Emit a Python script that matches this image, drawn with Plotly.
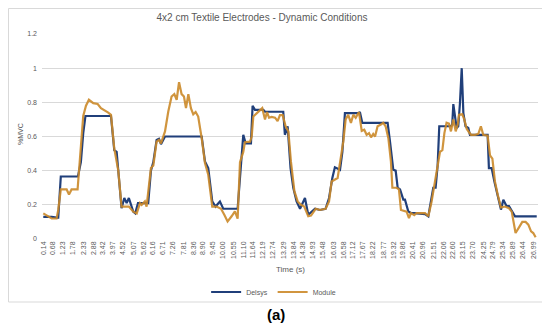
import plotly.graph_objects as go

# Tick labels of the category axis (time in seconds)
tick_labels = ["0.14", "0.68", "1.23", "1.78", "2.33", "2.88", "3.42", "3.97", "4.52", "5.07",
               "5.62", "6.16", "6.71", "7.26", "7.81", "8.36", "8.90", "9.45", "10.00", "10.55",
               "11.10", "11.64", "12.19", "12.74", "13.29", "13.84", "14.38", "14.93", "15.48", "16.03",
               "16.58", "17.12", "17.67", "18.22", "18.77", "19.32", "19.86", "20.41", "20.96", "21.51",
               "22.06", "22.60", "23.15", "23.70", "24.25", "24.79", "25.34", "25.89", "26.44", "26.99"]
tick_vals = [float(s) for s in tick_labels]

# Delsys series (time, %MVC)
delsys_t = [0.14, 0.60, 0.87, 0.96, 1.10, 2.04, 2.20, 2.33, 2.45, 3.85, 4.03, 4.16, 4.25, 4.43,
            4.58, 4.71, 4.83, 5.07, 5.18, 5.33, 5.89, 6.04, 6.17, 6.35, 6.48, 6.59, 6.81, 8.82,
            9.00, 9.18, 9.40, 9.58, 9.82, 10.00, 10.79, 10.97, 11.10, 11.23, 11.52, 11.61, 11.74,
            12.20, 12.29, 13.29, 13.38, 13.53, 13.69, 13.84, 14.02, 14.21, 14.48, 14.66, 14.85,
            15.03, 15.30, 15.61, 15.80, 15.98, 16.12, 16.40, 16.53, 16.67, 17.44, 17.49, 17.62,
            19.01, 19.14, 19.32, 19.45, 19.56, 19.69, 19.87, 19.96, 20.14, 20.29, 20.47, 21.06,
            21.24, 21.51, 21.64, 21.75, 21.84, 22.48, 22.55, 22.61, 22.70, 22.79, 22.88, 22.97,
            23.07, 23.16, 23.28, 23.43, 23.52, 24.49, 24.56, 24.71, 24.86, 25.04, 25.22, 25.35,
            25.53, 25.66, 25.81, 25.99, 27.18]
delsys_v = [0.13, 0.13, 0.125, 0.125, 0.366, 0.366, 0.45, 0.62, 0.72, 0.72, 0.52, 0.51, 0.40, 0.18,
            0.24, 0.21, 0.24, 0.16, 0.15, 0.21, 0.21, 0.40, 0.45, 0.58, 0.587, 0.555, 0.60, 0.60,
            0.454, 0.415, 0.22, 0.19, 0.22, 0.177, 0.177, 0.40, 0.61, 0.56, 0.56, 0.78, 0.756,
            0.756, 0.745, 0.745, 0.61, 0.66, 0.415, 0.30, 0.22, 0.177, 0.24, 0.142, 0.16,
            0.177, 0.17, 0.177, 0.24, 0.357, 0.42, 0.405, 0.51, 0.737, 0.737, 0.743, 0.68,
            0.68, 0.57, 0.405, 0.40, 0.30, 0.29, 0.23, 0.23, 0.162, 0.152, 0.152, 0.146,
            0.133, 0.30, 0.30, 0.43, 0.66, 0.66, 0.67, 0.79, 0.70, 0.65, 0.66, 0.79,
            1.0, 0.737, 0.66, 0.65, 0.61, 0.61, 0.415, 0.415, 0.337, 0.26, 0.172, 0.23,
            0.192, 0.192, 0.162, 0.133, 0.133]

# Module series (time, %MVC)
module_t = [0.14, 0.41, 0.60, 0.87, 0.96, 1.10, 1.42, 1.55, 1.69, 2.02, 2.15, 2.33, 2.48, 2.64,
            2.88, 3.12, 3.30, 3.48, 3.70, 3.85, 4.03, 4.25, 4.43, 4.83, 5.07, 5.26, 5.44, 5.53,
            5.71, 5.80, 6.04, 6.17, 6.35, 6.48, 6.59, 6.81, 6.99, 7.17, 7.32, 7.45, 7.58, 7.72,
            7.85, 7.96, 8.09, 8.23, 8.36, 8.49, 8.63, 8.82, 9.00, 9.18, 9.40, 9.64, 9.88, 10.06,
            10.24, 10.46, 10.64, 10.79, 10.92, 11.10, 11.19, 11.47, 11.56, 11.65, 11.83, 11.96,
            12.14, 12.29, 12.40, 12.51, 12.65, 12.84, 12.98, 13.11, 13.26, 13.42, 13.57, 13.71,
            13.90, 14.08, 14.26, 14.44, 14.66, 14.81, 15.07, 15.30, 15.61, 15.80, 15.94, 16.27,
            16.45, 16.58, 16.71, 16.85, 17.00, 17.13, 17.26, 17.44, 17.59, 17.73, 17.86, 17.99,
            18.10, 18.22, 18.32, 18.46, 18.64, 18.77, 18.90, 19.05, 19.19, 19.27, 19.50, 19.63,
            19.74, 19.92, 20.05, 20.18, 20.29, 20.47, 20.60, 21.06, 21.24, 21.42, 21.64, 21.88,
            22.01, 22.12, 22.24, 22.37, 22.48, 22.61, 22.74, 22.85, 22.92, 23.10, 23.21, 23.34,
            23.47, 23.58, 23.80, 23.98, 24.12, 24.25, 24.49, 24.62, 24.75, 24.89, 25.04, 25.22,
            25.44, 25.66, 25.81, 26.02, 26.21, 26.39, 26.57, 26.72, 26.87, 26.99, 27.12]
module_v = [0.15, 0.13, 0.12, 0.12, 0.17, 0.29, 0.29, 0.26, 0.29, 0.29, 0.45, 0.72, 0.78, 0.815,
            0.795, 0.79, 0.766, 0.755, 0.74, 0.727, 0.53, 0.40, 0.19, 0.19, 0.16, 0.15, 0.21, 0.20,
            0.22, 0.19, 0.415, 0.43, 0.57, 0.58, 0.56, 0.63, 0.746, 0.834, 0.848, 0.815, 0.918, 0.848,
            0.834, 0.766, 0.848, 0.766, 0.73, 0.743, 0.717, 0.59, 0.444, 0.376, 0.19, 0.19, 0.177, 0.142,
            0.103, 0.133, 0.162, 0.119, 0.45, 0.51, 0.567, 0.57, 0.60, 0.717, 0.737, 0.75,
            0.766, 0.70, 0.743, 0.71, 0.715, 0.71, 0.69, 0.725, 0.725, 0.66, 0.63, 0.454,
            0.28, 0.22, 0.20, 0.19, 0.133, 0.137, 0.177, 0.17, 0.177, 0.22, 0.337, 0.357,
            0.49, 0.57, 0.70, 0.727, 0.68, 0.727, 0.71, 0.743, 0.633, 0.64, 0.61, 0.62,
            0.595, 0.615, 0.60, 0.66, 0.67, 0.68, 0.66, 0.59, 0.454, 0.30, 0.30, 0.29,
            0.17, 0.165, 0.16, 0.123, 0.152, 0.14, 0.152, 0.152, 0.133, 0.22, 0.357, 0.51,
            0.52, 0.62, 0.68, 0.675, 0.63, 0.70, 0.63, 0.67, 0.727, 0.73, 0.70, 0.645,
            0.625, 0.61, 0.61, 0.615, 0.66, 0.61, 0.605, 0.49, 0.47, 0.337, 0.26, 0.185,
            0.19, 0.18, 0.16, 0.035, 0.068, 0.10, 0.10, 0.084, 0.045, 0.035, 0.01]

y_ticks = [0, 0.2, 0.4, 0.6, 0.8, 1, 1.2]
y_tick_text = ["0", "0.2", "0.4", "0.6", "0.8", "1", "1.2"]

GRAY = "#595959"
FONT = "Liberation Sans"

# Figure is 542x324 because the page body adds an 8px margin in the 550x332 window.
W, H = 542, 324
L, R, T, B = 34, 12, 26, 93
PW, PH = W - L - R, H - T - B


def px_x(x):
    return (x - L) / PW


def px_y(y):
    return (H - B - y) / PH


fig = go.Figure()
fig.add_trace(go.Scatter(x=delsys_t, y=delsys_v, mode="lines", name="Delsys",
                         line=dict(color="#203f7a", width=2.2)))
fig.add_trace(go.Scatter(x=module_t, y=module_v, mode="lines", name="Module",
                         line=dict(color="#cc8a2a", width=2.2), opacity=0.9))

fig.update_layout(
    width=W, height=H,
    margin=dict(l=L, r=R, t=T, b=B),
    paper_bgcolor="white", plot_bgcolor="white",
    font=dict(family=FONT, color=GRAY, size=8),
    title=dict(text="4x2 cm Textile Electrodes - Dynamic Conditions",
               x=254 / W, xref="container", xanchor="center", y=1 - 9 / H, yanchor="middle",
               font=dict(family=FONT, size=10, color=GRAY)),
    showlegend=True,
    legend=dict(orientation="h", x=0.467, xanchor="center", y=px_y(284), yanchor="middle",
                font=dict(family=FONT, size=7, color=GRAY), itemwidth=30,
                bgcolor="rgba(0,0,0,0)"),
    xaxis=dict(range=[0.07, 27.25], tickmode="array", tickvals=tick_vals, ticktext=tick_labels,
               tickangle=-90, tickfont=dict(size=7, color=GRAY), showgrid=False, zeroline=False,
               showline=False, ticks="", automargin=False),
    yaxis=dict(range=[0, 1.2], tickmode="array", tickvals=y_ticks, ticktext=y_tick_text,
               tickfont=dict(size=7, color=GRAY), showgrid=True, gridcolor="#d9d9d9",
               gridwidth=0.75, zeroline=False, showline=False, ticks="", ticklabelstandoff=4,
               automargin=False),
)

# axis titles
fig.add_annotation(text="Time (s)", xref="paper", yref="paper", x=0.5, y=px_y(261),
                   showarrow=False, font=dict(family=FONT, size=8, color=GRAY),
                   xanchor="center", yanchor="middle")
fig.add_annotation(text="%MVC", xref="paper", yref="paper", x=px_x(12), y=px_y(126),
                   showarrow=False, textangle=-90, font=dict(family=FONT, size=7, color=GRAY),
                   xanchor="center", yanchor="middle")

# chart-area border (Excel chart frame)
fig.add_shape(type="rect", xref="paper", yref="paper",
              x0=px_x(0.5), x1=px_x(536), y0=px_y(294), y1=px_y(0.5),
              line=dict(color="#d9d9d9", width=1), fillcolor="rgba(0,0,0,0)", layer="below")

# panel label
fig.add_annotation(text="<b>(a)</b>", xref="paper", yref="paper",
                   x=px_x(268), y=px_y(306), showarrow=False,
                   font=dict(family="Liberation Sans", size=15, color="black"),
                   xanchor="center", yanchor="middle")

fig.write_html("out.html")
